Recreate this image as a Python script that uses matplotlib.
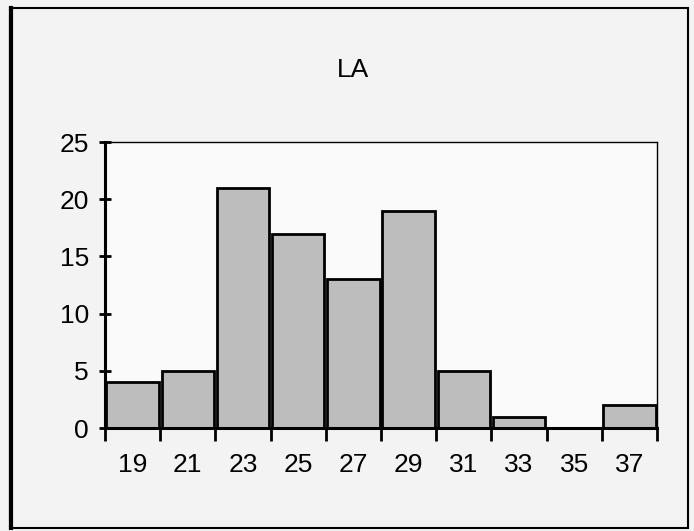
import numpy as np
import matplotlib.pyplot as plt
from matplotlib.patches import Rectangle

# datos del histograma
categorias = ['19', '21', '23', '25', '27', '29', '31', '33', '35', '37']
frecuencias = [4, 5, 21, 17, 13, 19, 5, 1, 0, 2]
yticks = [0, 5, 10, 15, 20, 25]

plt.rcParams['font.family'] = ['Liberation Sans', 'DejaVu Sans']

fig = plt.figure(figsize=(6.94, 5.31), dpi=100)
fig.patch.set_facecolor('#f3f3f3')
ax = fig.add_axes([105/694, 1 - 428/531, 552/694, 286/531])
ax.set_facecolor('#fafafa')

x = np.arange(len(categorias))
ax.bar(x, frecuencias, width=0.95, color='#bdbdbd', edgecolor='black', linewidth=2)

ax.set_xlim(-0.5, len(categorias) - 0.5)
ax.set_ylim(0, 25)
ax.set_yticks(yticks)
ax.set_yticklabels([str(v) for v in yticks], fontsize=19)
ax.set_xticks(x)
ax.set_xticklabels(categorias, fontsize=19)
ax.set_xticks(np.arange(len(categorias) + 1) - 0.5, minor=True)
ax.tick_params(axis='x', which='major', length=0, pad=18)
ax.tick_params(axis='x', which='minor', length=9, width=2, direction='out')
ax.tick_params(axis='y', which='major', length=9, width=2, direction='inout', pad=7)

for lado in ['left', 'bottom']:
    ax.spines[lado].set_linewidth(2.2)
for lado in ['top', 'right']:
    ax.spines[lado].set_linewidth(1)

fig.text(353/694, 1 - 70/531, 'LA', ha='center', va='center', fontsize=19)

# marco exterior
fig.patches.append(Rectangle((10/694, 1 - 528/531), 678/694, 520/531,
                             transform=fig.transFigure, fill=False,
                             edgecolor='black', linewidth=1.5))
fig.add_artist(plt.Line2D([11/694, 11/694], [1 - 528/531, 1 - 8/531],
                          transform=fig.transFigure, color='black', linewidth=3))

fig.savefig('out.png', dpi=100, facecolor=fig.get_facecolor())
